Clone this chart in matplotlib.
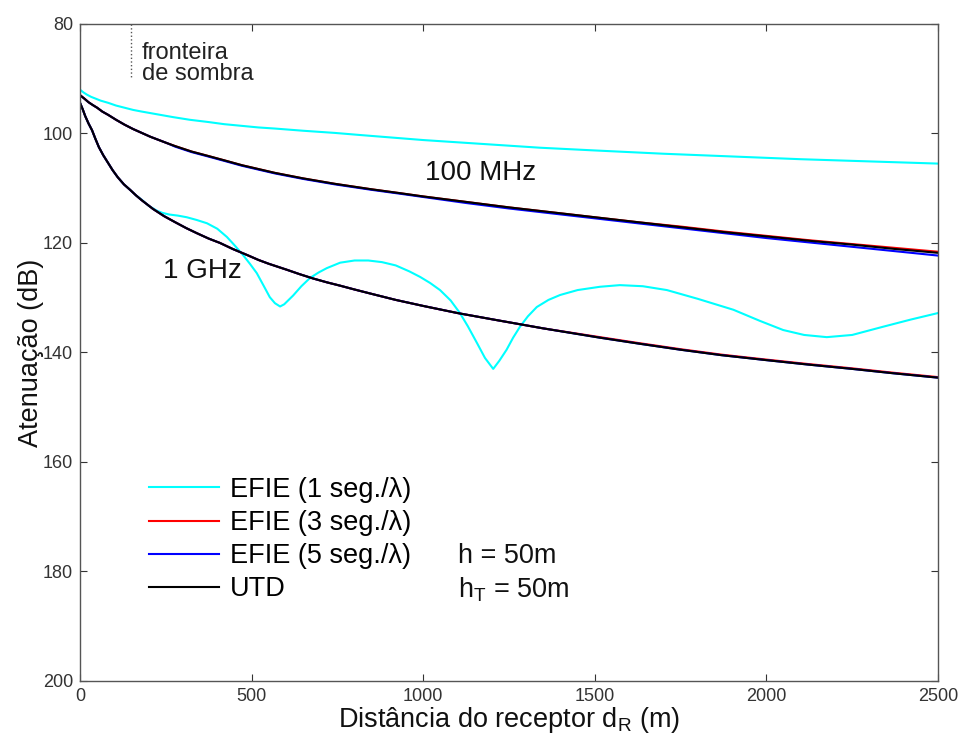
import matplotlib
matplotlib.use("Agg")
import matplotlib.pyplot as plt

plt.rcParams['font.family'] = ['Liberation Sans', 'DejaVu Sans']
plt.rcParams['mathtext.default'] = 'regular'

# 100 MHz curves (distance in m, attenuation in dB)
x_100_efie1 = [0, 10, 20, 32, 44, 60, 82, 105, 130, 155, 180, 225, 270, 320, 373,
               420, 470, 520, 568, 650, 743, 820, 900, 1000, 1170, 1340, 1500,
               1700, 1900, 2100, 2300, 2500]
y_100_efie1 = [92.0, 92.5, 92.9, 93.3, 93.6, 94.0, 94.4, 94.9, 95.3, 95.7, 96.0,
               96.5, 97.0, 97.5, 97.9, 98.3, 98.6, 98.9, 99.1, 99.5, 99.9, 100.3,
               100.7, 101.2, 101.9, 102.6, 103.1, 103.7, 104.2, 104.7, 105.1, 105.5]

x_100 = [0, 12, 25, 37, 50, 65, 82, 105, 130, 155, 180, 205, 230, 255, 277, 325,
         373, 420, 472, 520, 568, 650, 743, 850, 932, 1000, 1125, 1250, 1375,
         1500, 1625, 1750, 1875, 2000, 2125, 2250, 2375, 2500]
y_100_utd = [93.0, 93.6, 94.3, 94.8, 95.3, 96.0, 96.6, 97.5, 98.4, 99.2, 99.9,
             100.6, 101.2, 101.8, 102.3, 103.3, 104.1, 104.9, 105.8, 106.5, 107.2,
             108.2, 109.2, 110.2, 110.9, 111.5, 112.5, 113.5, 114.4, 115.3, 116.2,
             117.1, 118.0, 118.8, 119.6, 120.3, 121.1, 121.8]
y_100_efie3 = [93.0, 93.6, 94.3, 94.8, 95.3, 96.0, 96.6, 97.5, 98.4, 99.2, 99.9,
               100.6, 101.2, 101.8, 102.3, 103.3, 104.1, 104.9, 105.8, 106.5, 107.2,
               108.2, 109.2, 110.2, 110.9, 111.5, 112.5, 113.5, 114.4, 115.3, 116.2,
               117.0, 117.9, 118.7, 119.5, 120.2, 120.9, 121.6]
y_100_efie5 = [93.0, 93.6, 94.3, 94.8, 95.3, 96.0, 96.6, 97.5, 98.4, 99.2, 99.9,
               100.6, 101.2, 101.8, 102.4, 103.4, 104.2, 105.0, 105.9, 106.6, 107.3,
               108.3, 109.3, 110.3, 111.0, 111.6, 112.7, 113.7, 114.6, 115.5, 116.4,
               117.3, 118.2, 119.1, 119.9, 120.7, 121.5, 122.3]

# 1 GHz curves
x_1g_efie1 = [0, 8, 15, 25, 35, 45, 55, 68, 82, 95, 110, 128, 146, 163, 180, 200,
              224, 240, 260, 285, 311, 340, 370, 400, 428, 450, 475, 495, 515, 535,
              553, 568, 583, 595, 608, 621, 645, 670, 695, 719, 758, 800, 840, 880,
              920, 960, 991, 1020, 1049, 1080, 1107, 1130, 1157, 1180, 1204, 1222,
              1243, 1262, 1282, 1305, 1331, 1365, 1399, 1450, 1515, 1573, 1640,
              1710, 1800, 1904, 1980, 2049, 2110, 2176, 2250, 2340, 2420, 2500]
y_1g_efie1 = [94.4, 95.6, 96.8, 98.2, 99.4, 101.0, 102.5, 104.0, 105.4, 106.7,
              108.0, 109.3, 110.3, 111.3, 112.1, 113.2, 114.1, 114.5, 114.8, 115.0,
              115.3, 115.8, 116.4, 117.4, 118.9, 120.4, 122.2, 123.8, 125.5, 127.8,
              129.9, 131.0, 131.6, 131.2, 130.4, 129.6, 127.9, 126.4, 125.4, 124.6,
              123.6, 123.2, 123.2, 123.5, 124.1, 125.2, 126.2, 127.3, 128.6, 130.5,
              132.8, 135.2, 138.3, 141.0, 143.0, 141.5, 139.5, 137.3, 135.3, 133.4,
              131.7, 130.4, 129.5, 128.6, 128.0, 127.7, 127.9, 128.6, 130.2, 132.2,
              134.2, 135.9, 136.8, 137.2, 136.8, 135.3, 134.0, 132.8]

x_1g = [0, 8, 15, 25, 35, 45, 55, 68, 82, 95, 110, 128, 146, 163, 180, 213, 245,
        277, 310, 340, 375, 408, 445, 487, 520, 550, 603, 640, 680, 720, 758, 800,
        850, 920, 1000, 1100, 1215, 1350, 1515, 1630, 1750, 1870, 2000, 2120,
        2250, 2370, 2500]
y_1g_utd = [94.4, 95.6, 96.8, 98.2, 99.4, 101.0, 102.5, 104.0, 105.4, 106.7, 108.0,
            109.3, 110.3, 111.3, 112.2, 113.8, 115.1, 116.2, 117.3, 118.2, 119.2,
            120.0, 121.1, 122.2, 123.1, 123.8, 124.9, 125.7, 126.5, 127.2, 127.8,
            128.5, 129.3, 130.4, 131.5, 132.8, 134.1, 135.6, 137.3, 138.4, 139.5,
            140.5, 141.4, 142.2, 143.0, 143.8, 144.6]
y_1g_efie3 = [94.4, 95.6, 96.8, 98.2, 99.4, 101.0, 102.5, 104.0, 105.4, 106.7, 108.0,
              109.3, 110.3, 111.3, 112.2, 113.8, 115.1, 116.2, 117.3, 118.2, 119.2,
              120.0, 121.1, 122.2, 123.1, 123.8, 124.9, 125.7, 126.5, 127.2, 127.8,
              128.5, 129.3, 130.4, 131.5, 132.8, 134.1, 135.6, 137.2, 138.3, 139.4,
              140.4, 141.3, 142.1, 142.9, 143.7, 144.5]
y_1g_efie5 = [94.4, 95.6, 96.8, 98.2, 99.4, 101.0, 102.5, 104.0, 105.4, 106.7, 108.0,
              109.3, 110.3, 111.3, 112.2, 113.8, 115.1, 116.2, 117.3, 118.2, 119.2,
              120.0, 121.1, 122.2, 123.1, 123.8, 124.9, 125.7, 126.5, 127.2, 127.8,
              128.5, 129.3, 130.4, 131.5, 132.8, 134.1, 135.6, 137.3, 138.4, 139.5,
              140.5, 141.4, 142.2, 143.0, 143.8, 144.6]

x_ticks = [0, 500, 1000, 1500, 2000, 2500]
y_ticks = [80, 100, 120, 140, 160, 180, 200]

fig = plt.figure(figsize=(9.64, 7.47), dpi=100)
ax = fig.add_axes([0.083, 0.0884, 0.890, 0.8795])

lw = 1.5
# 100 MHz
ax.plot(x_100_efie1, y_100_efie1, color='#00ffff', lw=lw)
ax.plot(x_100, y_100_efie3, color='#ff0000', lw=lw)
ax.plot(x_100, y_100_efie5, color='#0000ff', lw=lw)
ax.plot(x_100, y_100_utd, color='black', lw=lw)
# 1 GHz
l1, = ax.plot(x_1g_efie1, y_1g_efie1, color='#00ffff', lw=lw, label='EFIE (1 seg./λ)')
l3, = ax.plot(x_1g, y_1g_efie3, color='#ff0000', lw=lw, label='EFIE (3 seg./λ)')
l5, = ax.plot(x_1g, y_1g_efie5, color='#0000ff', lw=lw, label='EFIE (5 seg./λ)')
lu, = ax.plot(x_1g, y_1g_utd, color='black', lw=lw, label='UTD')

# shadow boundary marker
ax.plot([150, 150], [80, 89.7], color='#555555', lw=1, ls=':')
ax.text(180, 83.3, 'fronteira\nde sombra', fontsize=17, va='top', ha='left',
        linespacing=0.95, color='#222222')

ax.text(1005, 107.2, '100 MHz', fontsize=20, va='center', ha='left', color='#111111')
ax.text(242, 125.1, '1 GHz', fontsize=20, va='center', ha='left', color='#111111')
ax.text(1101, 178.4, 'h = 50m', fontsize=19.5, va='baseline', ha='left', color='#111111')
ax.text(1101, 184.7, 'h$_T$ = 50m', fontsize=19.5, va='baseline', ha='left', color='#111111')

ax.legend(handles=[l1, l3, l5, lu], loc='upper left', bbox_to_anchor=(0.08, 0.3105),
          frameon=False, fontsize=19.5, handlelength=2.6, handletextpad=0.4,
          labelspacing=0.26, borderpad=0, borderaxespad=0)

ax.set_xlim(0, 2500)
ax.set_ylim(200, 80)
ax.set_xticks(x_ticks)
ax.set_yticks(y_ticks)
ax.tick_params(direction='in', top=True, right=True, length=5, width=0.8,
               labelsize=13, colors='#333333', pad=5)
for s in ax.spines.values():
    s.set_color('#555555')
    s.set_linewidth(1.0)

ax.set_xlabel('Distância do receptor d$_R$ (m)', fontsize=19.5, labelpad=0, color='#111111')
ax.set_ylabel('Atenuação (dB)', fontsize=19.5, labelpad=-1, color='#111111')

fig.savefig('out.png', dpi=100)
